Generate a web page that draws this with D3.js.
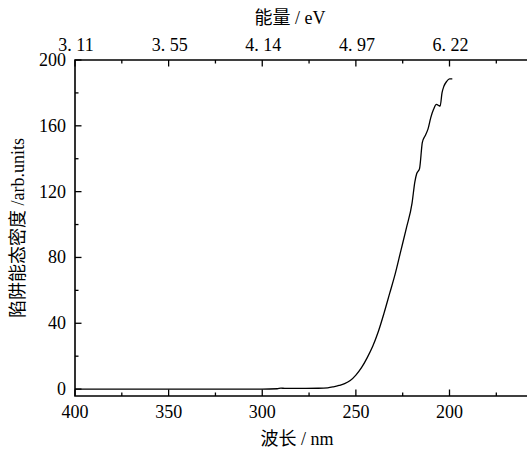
<!DOCTYPE html>
<html><head><meta charset="utf-8">
<script src="https://cdn.jsdelivr.net/npm/d3@7"></script>
<style>
html,body{margin:0;padding:0;background:#fff;overflow:hidden}
text{font-family:"Liberation Serif","Noto Sans CJK SC",serif;fill:#000}
</style></head>
<body><svg id="c" width="527" height="450"></svg>
<script>
const wavelength = [400, 350, 300, 292, 290, 288, 280, 270, 265, 262, 259, 256, 253, 250, 247, 244, 241, 238, 235, 232, 229, 226, 223, 220, 218.5, 217.5, 216, 214.5, 213, 211.5, 210, 208.5, 207, 206, 205, 204, 203, 201.5, 200, 198.5];
const density = [0, 0, 0, 0.2, 0.6, 0.4, 0.4, 0.5, 0.8, 1.4, 2.2, 3.3, 5.2, 8.5, 13, 19, 26, 35, 46, 58, 70, 84, 98, 113, 126, 131, 134, 150, 154, 158, 165, 170, 173, 172.5, 172, 180, 184, 187, 188.5, 188.5];
const xTicks = [400, 350, 300, 250, 200];
const xMinor = [375, 325, 275, 225, 175];
const yTicks = [0, 40, 80, 120, 160, 200];
const yMinor = [20, 60, 100, 140, 180];
const energyLabels = ["3. 11", "3. 55", "4. 14", "4. 97", "6. 22"];

const L = 75, T = 60, B = 396;
const x = d3.scaleLinear().domain([400, 200]).range([L, 449.5]);
const y = d3.scaleLinear().domain([-4.2, 200]).range([B, T]);
const R = 530;

const svg = d3.select("#c");
const g = svg.append("g");

g.append("path").attr("d", `M${R},${T}H${L}V${B}H${R}`).attr("fill","none").attr("stroke","#000").attr("stroke-width",1.6);

const ticksB = g.append("g");
xTicks.forEach(v => ticksB.append("line").attr("x1",x(v)).attr("x2",x(v)).attr("y1",B).attr("y2",B-6.5).attr("stroke","#000").attr("stroke-width",1.3));
xMinor.forEach(v => ticksB.append("line").attr("x1",x(v)).attr("x2",x(v)).attr("y1",B).attr("y2",B-3.5).attr("stroke","#000").attr("stroke-width",1.3));
xTicks.forEach(v => ticksB.append("text").attr("x",x(v)).attr("y",418).attr("text-anchor","middle").attr("font-size",18).text(v));
xTicks.forEach(v => ticksB.append("line").attr("x1",x(v)).attr("x2",x(v)).attr("y1",T).attr("y2",T+6.5).attr("stroke","#000").attr("stroke-width",1.3));
xMinor.forEach(v => ticksB.append("line").attr("x1",x(v)).attr("x2",x(v)).attr("y1",T).attr("y2",T+3.5).attr("stroke","#000").attr("stroke-width",1.3));
xTicks.forEach((v,i) => ticksB.append("text").attr("x",x(v)+1).attr("y",51).attr("text-anchor","middle").attr("font-size",18).text(energyLabels[i]));
yTicks.forEach(v => ticksB.append("line").attr("x1",L).attr("x2",L+6.5).attr("y1",y(v)).attr("y2",y(v)).attr("stroke","#000").attr("stroke-width",1.3));
yMinor.forEach(v => ticksB.append("line").attr("x1",L).attr("x2",L+3.5).attr("y1",y(v)).attr("y2",y(v)).attr("stroke","#000").attr("stroke-width",1.3));
yTicks.forEach(v => ticksB.append("text").attr("x",66).attr("y",y(v)+6).attr("text-anchor","end").attr("font-size",18).text(v));

const line = d3.line().x((d,i)=>x(wavelength[i])).y((d,i)=>y(density[i])).curve(d3.curveMonotoneX);
g.append("path").datum(density).attr("d", line).attr("fill","none").attr("stroke","#000").attr("stroke-width",1.3);

svg.append("text").attr("x",290).attr("y",24).attr("text-anchor","middle").attr("font-size",18).attr("xml:space","preserve").text("能量 / eV");
svg.append("text").attr("x",297).attr("y",445).attr("text-anchor","middle").attr("font-size",18).attr("xml:space","preserve").text("波长 / nm");
svg.append("text").attr("transform","translate(24,228) rotate(-90)").attr("text-anchor","middle").attr("font-size",18).attr("xml:space","preserve").text("陷阱能态密度 /arb.units");
</script></body></html>
